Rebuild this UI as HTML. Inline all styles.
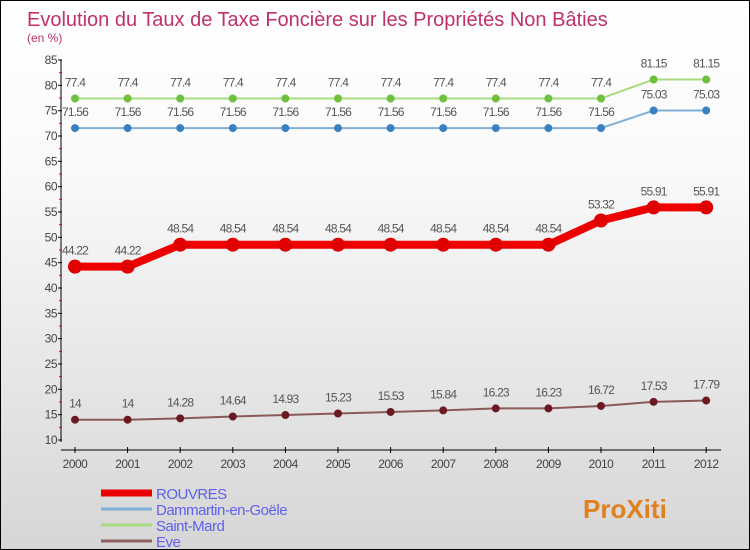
<!DOCTYPE html>
<html><head><meta charset="utf-8"><style>
body{margin:0}
#c{width:748px;height:548px;border:1px solid #000;background:linear-gradient(#fff,#fafafa 30%,#d6d6d6);position:relative;overflow:hidden;font-family:"Liberation Sans",sans-serif}
</style></head><body>
<div id="c">
<svg width="748" height="548" id="s"></svg>
</div>
<script>
const years=[2000,2001,2002,2003,2004,2005,2006,2007,2008,2009,2010,2011,2012];
const rouvres=[44.22,44.22,48.54,48.54,48.54,48.54,48.54,48.54,48.54,48.54,53.32,55.91,55.91];
const dammartin=[71.56,71.56,71.56,71.56,71.56,71.56,71.56,71.56,71.56,71.56,71.56,75.03,75.03];
const saintMard=[77.4,77.4,77.4,77.4,77.4,77.4,77.4,77.4,77.4,77.4,77.4,81.15,81.15];
const eve=[14,14,14.28,14.64,14.93,15.23,15.53,15.84,16.23,16.23,16.72,17.53,17.79];
const yTicks=[10,15,20,25,30,35,40,45,50,55,60,65,70,75,80,85];
const NS="http://www.w3.org/2000/svg";
const s=document.getElementById('s');
const X=i=>74+i*52.6;
const Y=v=>439-(v-10)*(380/75);
function el(t,a,txt){const e=document.createElementNS(NS,t);for(const k in a)e.setAttribute(k,a[k]);if(txt!==undefined)e.textContent=txt;s.appendChild(e);return e;}
let t=el('text',{x:26,y:25,'font-size':20,fill:'#c0306a'},'Evolution du Taux de Taxe Foncière sur les Propriétés Non Bâties');


t=el('text',{x:26,y:41,'font-size':12,fill:'#c0306a'},'(en %)');


// axes
let a=el('line',{x1:60,y1:59,x2:60,y2:441,stroke:'#000'});


a=el('line',{x1:60,y1:449,x2:720,y2:449,stroke:'#000'});


yTicks.forEach((v,i)=>{
 el('line',{x1:57,y1:Y(v),x2:61,y2:Y(v),stroke:'#000'});
 if(i<yTicks.length-1)el('line',{x1:58,y1:Y(v+2.5),x2:61,y2:Y(v+2.5),stroke:'#e00'});
 const e=el('text',{x:56,y:Y(v)+4,'font-size':12,'text-anchor':'end',fill:'#444','letter-spacing':'-0.5'},v);
 
 
});
years.forEach((y,i)=>{
 el('line',{x1:X(i),y1:446,x2:X(i),y2:452,stroke:'#000'});
 const e=el('text',{x:X(i),y:467,'font-size':12,'text-anchor':'middle',fill:'#444','letter-spacing':'-0.5'},y);
 
 
});
function series(data,color,dot,w,r,name){
 const p=el('polyline',{points:data.map((v,i)=>X(i)+','+Y(v)).join(' '),fill:'none',stroke:color,'stroke-width':w});
 
 
 data.forEach((v,i)=>{
  const c=el('circle',{cx:X(i),cy:Y(v),r:r,fill:dot});
  
  
  const l=el('text',{x:X(i),y:Y(v)-12,'font-size':12,'text-anchor':'middle',fill:'#555','letter-spacing':'-0.8'},v);
  
  
 });
}
series(saintMard,'#a8dc80','#70c040',2,4,'saint-mard');
series(dammartin,'#80b0d8','#3a80c0',2,4,'dammartin');
series(rouvres,'#ee0000','#e00000',8,7,'rouvres');
series(eve,'#8a5a5a','#6a1a20',2,4,'eve');
const leg=[['ROUVRES','#e00',7],['Dammartin-en-Goële','#80b0d8',3],['Saint-Mard','#a8dc80',3],['Eve','#906060',3]];
leg.forEach((g,i)=>{
 const y=492+i*16;
 const l=el('line',{x1:100,y1:y,x2:151,y2:y,stroke:g[1],'stroke-width':g[2]});
 
 
 const e=el('text',{x:155,y:y+6,'font-size':15,fill:'#6060ee','letter-spacing':'-0.5'},g[0]);
 
 
});
const logo=el('text',{x:582,y:517,'font-size':26,'font-weight':'bold',fill:'#e08020'},'ProXiti');


</script>
</body></html>
